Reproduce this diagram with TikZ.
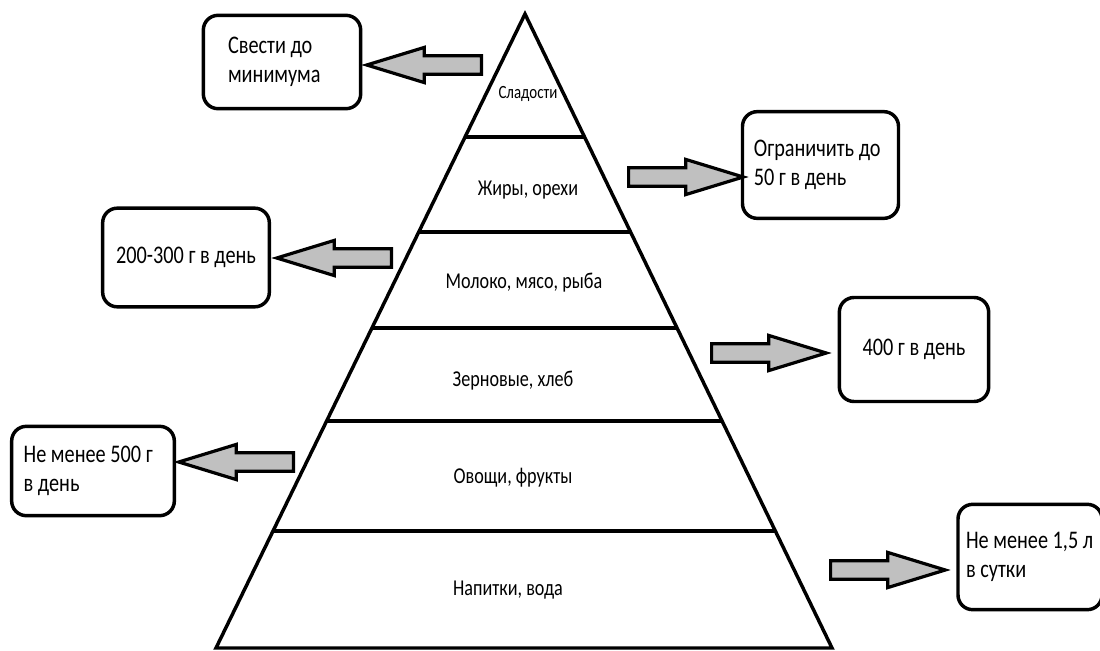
\documentclass[tikz,border=0pt]{standalone}
\usepackage{fontspec}
\setmainfont[FakeStretch=0.8]{Carlito}
\usepackage{xcolor}
\definecolor{arrowgray}{RGB}{192,192,192}
\usepackage{tikz}
\usetikzlibrary{shapes.arrows, positioning, calc}

\tikzset{
  notebox/.style={draw, line width=2.6pt, rounded corners=11pt, inner sep=0pt,
    font=\fontsize{19pt}{22pt}\selectfont},
  blockarrow/.style={single arrow, draw, fill=arrowgray, line width=2.4pt,
    minimum height=86pt, minimum width=0pt, inner xsep=0pt, inner ysep=5.8pt,
    single arrow head extend=6.2pt, single arrow tip angle=34, anchor=tail},
  layerlabel/.style={font=\fontsize{17pt}{20pt}\selectfont}
}

\begin{document}
\begin{tikzpicture}[x=0.75pt, y=-0.75pt]
\useasboundingbox (0,0) rectangle (1100,650);

% pyramid outline
\coordinate (apex) at (525,14);
\coordinate (bl) at (216,648);
\coordinate (br) at (832,648);
\draw[line width=2.6pt] (apex) -- (bl) -- (br) -- cycle;

\foreach \y in {137,232,328,421,531}
  \draw[line width=2.6pt] ($(apex)!{(\y-14)/634}!(bl)$) -- ($(apex)!{(\y-14)/634}!(br)$);

% layer labels
\node[font=\fontsize{14pt}{16pt}\selectfont] (sweets) at (528,94) {Сладости};
\foreach \n/\x/\y/\txt in {
  fats/528/190/{Жиры, орехи},
  dairy/524/283/{Молоко, мясо, рыба},
  grains/513/381/{Зерновые, хлеб},
  veg/513/478/{Овощи, фрукты},
  drinks/508/590/{Напитки, вода}}
{
  \node[layerlabel] (\n) at (\x,\y) {\txt};
}

% notes
\node[notebox, minimum width=118pt, minimum height=70pt, text width=81pt, align=flush left]
  (sweetsnote) at (282,62) {Свести до\\минимума};
\node[notebox, minimum width=117pt, minimum height=80pt, text width=100pt, align=flush left]
  (fatsnote) at (820.5,165) {Ограничить до\\50 г в день};
\node[notebox, minimum width=125pt, minimum height=74pt, align=center]
  (dairynote) at (186,257.5) {200-300 г в день};
\node[notebox, minimum width=112pt, minimum height=78pt, align=center]
  (grainsnote) at (914,349.5) {400 г в день};
\node[notebox, minimum width=122pt, minimum height=67pt, text width=104pt, align=flush left]
  (vegnote) at (93,471) {Не менее 500 г\\в день};
\node[notebox, minimum width=108pt, minimum height=79pt, text width=96pt, align=flush left]
  (drinksnote) at (1030,557) {Не менее 1,5 л\\в сутки};

% block arrows, placed by their tails
\foreach \n/\x/\y/\r in {a1/483/65/180, a2/627/177/0, a3/393/258/180,
                         a4/710/353/0, a5/295/462/180, a6/829/570/0}
{
  \node[blockarrow, shape border rotate=\r] (\n) at (\x,\y) {};
}
\end{tikzpicture}
\end{document}
